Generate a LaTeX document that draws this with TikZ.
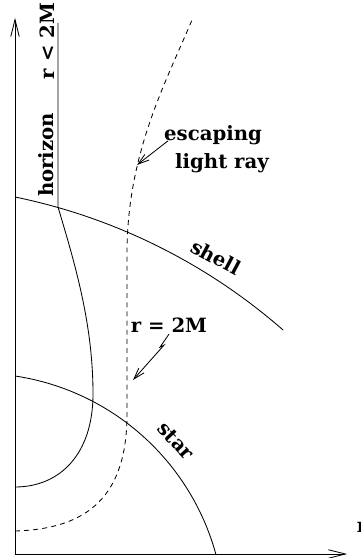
\documentclass[tikz,border=0pt]{standalone}
\usepackage{fontspec}
\setmainfont{DejaVu Serif}
\usetikzlibrary{arrows.meta}
\begin{document}
\begin{tikzpicture}[
        x=0.025cm,
        y=0.025cm,
        line width=0.6pt,
        every node/.style={font=\fontsize{14}{16}\selectfont\bfseries, inner sep=1pt},
        axisarrow/.style={-{Straight Barb[length=12pt,width=6pt]}},
        pointer/.style={-{Straight Barb[length=8pt,width=5pt]}},
        raydash/.style={dash pattern=on 3.5pt off 3pt}
    ]
        \useasboundingbox (-15,-4) rectangle (346,554);

        % Axes
        \coordinate (origin) at (0,0);
        \coordinate (ttop) at (0,536);
        \coordinate (rend) at (332,0);
        \draw[axisarrow] (origin) -- (ttop);
        \draw[axisarrow] (origin) -- (rend);
        \node[anchor=base west] (rlabel) at (340,21){r};

        % Star and shell
        \draw (0,178) arc[start angle=81.5, end angle=15.4, radius=246];
        \draw (0,357) arc[start angle=78.4, end angle=48.8, radius=586];

        % Horizon
        \draw (43,531) -- (43,347) .. controls (60,290) and (78,230) .. (78,160)
            .. controls (78,100) and (45,67) .. (0,67);

        % Light ray
        \draw[raydash] (0,23) .. controls (75,25) and (112,60) .. (112,140)
            -- (112,300) .. controls (112,400) and (150,470) .. (177,534);

        % Labels
        \node[rotate=90] (rless) at (32,513){r < 2M};
        \node[rotate=90] (horizon) at (31,399){horizon};
        \node (escaping) at (198,419){escaping};
        \node (lightray) at (207,391){light ray};
        \node[rotate=-28] (shell) at (201,297){shell};
        \node (rtwo) at (154,229){r = 2M};
        \node[rotate=-47] (star) at (161,113){star};

        % Pointers
        \coordinate (raytip) at (122,389);
        \coordinate (rtwotip) at (118,174);
        \draw[pointer] ([xshift=4pt,yshift=4pt]escaping.south west) -- (raytip);
        \draw[pointer] (rtwo.south) -- ++(-9,-13) -- ++(4,2) -- (rtwotip);
    \end{tikzpicture}
\end{document}
